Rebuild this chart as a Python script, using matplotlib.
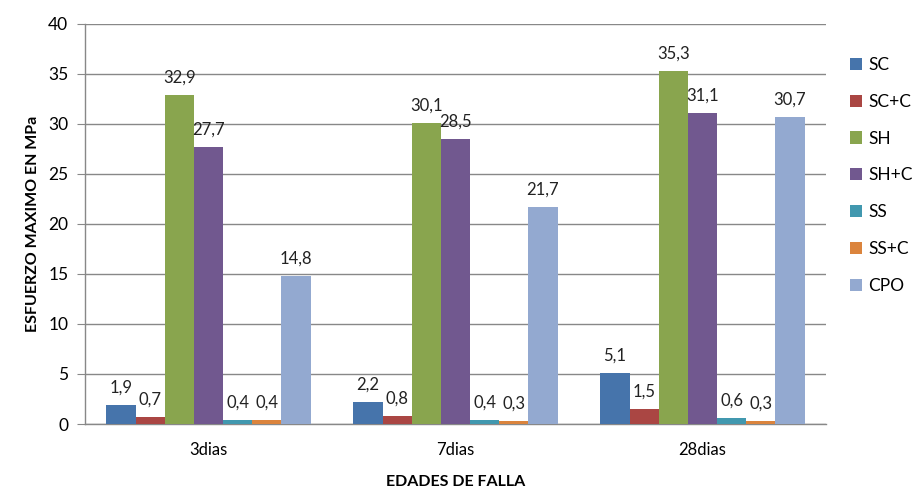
import matplotlib.pyplot as plt
import numpy as np

plt.rcParams['font.family'] = ['Lato', 'DejaVu Sans']

edades = ['3dias', '7dias', '28dias']
series = ['SC', 'SC+C', 'SH', 'SH+C', 'SS', 'SS+C', 'CPO']
valores = [
    [1.9, 2.2, 5.1],      # SC
    [0.7, 0.8, 1.5],      # SC+C
    [32.9, 30.1, 35.3],   # SH
    [27.7, 28.5, 31.1],   # SH+C
    [0.4, 0.4, 0.6],      # SS
    [0.4, 0.3, 0.3],      # SS+C
    [14.8, 21.7, 30.7],   # CPO
]
colores = ['#4674AB', '#AA4643', '#89A54E', '#71588F', '#4198AF', '#DB843D', '#93A9D0']

fig = plt.figure(figsize=(9.16, 4.9), dpi=100)
ax = fig.add_axes([85 / 916, 66 / 490, 741 / 916, 400 / 490])

x = np.arange(len(edades))
ancho = 0.118
for i, (nombre, vals) in enumerate(zip(series, valores)):
    pos = x + (i - 3) * ancho
    ax.bar(pos, vals, ancho, color=colores[i], label=nombre, zorder=3)
    for p, v in zip(pos, vals):
        ax.text(p, v + 0.9, f'{v:.1f}'.replace('.', ','), ha='center', va='bottom',
                fontsize=12, color='#222222')

ax.set_xlim(-0.5, 2.5)
ax.set_ylim(0, 40)
ax.set_yticks(np.arange(0, 41, 5))
ax.set_xticks(x)
ax.set_xticklabels(edades)
ax.tick_params(axis='y', length=6, color='#888888', labelsize=12.5, pad=6)
ax.tick_params(axis='x', length=0, labelsize=12, pad=13)
ax.grid(axis='y', color='#888888', linewidth=1, zorder=0)
for lado in ['top', 'right']:
    ax.spines[lado].set_visible(False)
for lado in ['left', 'bottom']:
    ax.spines[lado].set_color('#888888')
    ax.spines[lado].set_linewidth(1)

ax.set_ylabel('ESFUERZO MAXIMO EN MPa', fontsize=11.5, fontweight='bold', labelpad=6)
ax.set_xlabel('EDADES DE FALLA', fontsize=11.5, fontweight='bold', labelpad=12)

fig.legend(loc='upper left', bbox_to_anchor=(843 / 916, 1 - 50 / 490), frameon=False,
           fontsize=12.5, handlelength=0.7, handleheight=0.7, handletextpad=0.35,
           labelspacing=1.2, borderaxespad=0)

fig.savefig('out.png', dpi=100)
